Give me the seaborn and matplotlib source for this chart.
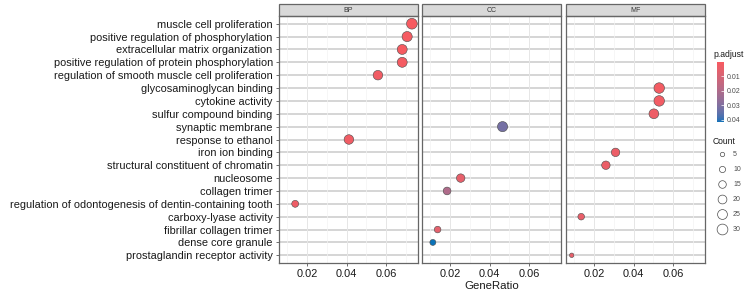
import numpy as np
import pandas as pd
import matplotlib
matplotlib.use("Agg")
import matplotlib.pyplot as plt
import seaborn as sns
from matplotlib.colors import ListedColormap, Normalize
from matplotlib.lines import Line2D
from matplotlib.patches import Rectangle

# ---- data ----
terms = [
    "muscle cell proliferation",
    "positive regulation of phosphorylation",
    "extracellular matrix organization",
    "positive regulation of protein phosphorylation",
    "regulation of smooth muscle cell proliferation",
    "glycosaminoglycan binding",
    "cytokine activity",
    "sulfur compound binding",
    "synaptic membrane",
    "response to ethanol",
    "iron ion binding",
    "structural constituent of chromatin",
    "nucleosome",
    "collagen trimer",
    "regulation of odontogenesis of dentin-containing tooth",
    "carboxy-lyase activity",
    "fibrillar collagen trimer",
    "dense core granule",
    "prostaglandin receptor activity",
]
ontology = ["BP", "BP", "BP", "BP", "BP", "MF", "MF", "MF", "CC", "BP",
            "MF", "MF", "CC", "CC", "BP", "MF", "CC", "CC", "MF"]
gene_ratio = [0.0731, 0.0707, 0.0682, 0.0682, 0.0559, 0.0530, 0.0530, 0.0503,
              0.0466, 0.0412, 0.0309, 0.0260, 0.0254, 0.0185, 0.0140, 0.0135,
              0.0137, 0.0113, 0.0087]
counts = [29, 26, 25, 25, 23, 28, 28, 24, 26, 23, 18, 18, 18, 15, 12, 11,
          11, 9, 5]
p_adjust = [0.0005, 0.0010, 0.0008, 0.0012, 0.0020, 0.0015, 0.0018, 0.0030,
            0.0320, 0.0025, 0.0035, 0.0040, 0.0050, 0.0200, 0.0030, 0.0045,
            0.0060, 0.0417, 0.0050]
panels = ["BP", "CC", "MF"]
x_ticks = [0.02, 0.04, 0.06]

df = pd.DataFrame({"Description": terms, "ONTOLOGY": ontology,
                   "GeneRatio": gene_ratio, "Count": counts,
                   "p.adjust": p_adjust})
df["ypos"] = df["Description"].map({t: i for i, t in enumerate(terms)})


# ggplot-style gradient (interpolated in Lab space)
def _to_lab(hexcol):
    rgb = np.array(matplotlib.colors.to_rgb(hexcol))
    lin = np.where(rgb <= 0.04045, rgb / 12.92, ((rgb + 0.055) / 1.055) ** 2.4)
    m = np.array([[0.4124, 0.3576, 0.1805],
                  [0.2126, 0.7152, 0.0722],
                  [0.0193, 0.1192, 0.9505]])
    xyz = m @ lin / np.array([0.95047, 1.0, 1.08883])
    f = np.where(xyz > 0.008856, np.cbrt(xyz), 7.787 * xyz + 16 / 116)
    return np.array([116 * f[1] - 16, 500 * (f[0] - f[1]), 200 * (f[1] - f[2])])


def _from_lab(lab):
    fy = (lab[0] + 16) / 116
    f = np.array([fy + lab[1] / 500, fy, fy - lab[2] / 200])
    xyz = np.where(f ** 3 > 0.008856, f ** 3, (f - 16 / 116) / 7.787)
    xyz = xyz * np.array([0.95047, 1.0, 1.08883])
    m = np.array([[3.2406, -1.5372, -0.4986],
                  [-0.9689, 1.8758, 0.0415],
                  [0.0557, -0.2040, 1.0570]])
    lin = m @ xyz
    rgb = np.where(lin <= 0.0031308, 12.92 * lin, 1.055 * np.clip(lin, 0, None) ** (1 / 2.4) - 0.055)
    return np.clip(rgb, 0, 1)


lo, hi = _to_lab("#F85A60"), _to_lab("#0A72B8")
cmap = ListedColormap([_from_lab(lo + (hi - lo) * t) for t in np.linspace(0, 1, 256)])
p_norm = Normalize(0.0, 0.0417)

plt.rcParams["font.family"] = ["Liberation Sans", "DejaVu Sans"]
fs = 7.9

fig = plt.figure(figsize=(7.48, 2.95), dpi=100)
lefts = [279 / 748, 422 / 748, 566 / 748]
width = 139 / 748
bottom, top = 1 - 263 / 295, 1 - 16 / 295
axes = []
for i, (lft, ont) in enumerate(zip(lefts, panels)):
    ax = fig.add_axes([lft, bottom, width, top - bottom],
                      sharey=axes[0] if axes else None)
    axes.append(ax)
    sub = df[df["ONTOLOGY"] == ont]
    for y in range(len(terms)):
        ax.axhline(y, color="#CACACA", lw=1.1, zorder=0)
    for xv in [0.01, 0.03, 0.05, 0.07]:
        ax.axvline(xv, color="#F3F3F3", lw=0.5, zorder=0)
    for xv in x_ticks:
        ax.axvline(xv, color="#E6E6E6", lw=0.7, zorder=0)
    sns.scatterplot(data=sub, x="GeneRatio", y="ypos", hue="p.adjust",
                    size="Count", palette=cmap, hue_norm=p_norm,
                    sizes=(0, 72), size_norm=(0, 35), edgecolor="#4a4a4a",
                    linewidth=0.4, legend=False, ax=ax, zorder=3)
    ax.set_xlim(0.0058, 0.0762)
    ax.set_ylim(len(terms) - 0.4, -0.6)
    ax.set_xticks(x_ticks)
    ax.set_xticklabels([f"{v:.2f}" for v in x_ticks], fontsize=fs, color="#1a1a1a")
    ax.set_xlabel("")
    ax.set_ylabel("")
    ax.tick_params(axis="both", length=2.5, width=0.6, color="#555555", pad=2)
    for sp in ax.spines.values():
        sp.set_color("#666666")
        sp.set_linewidth(0.9)
    ax.add_patch(Rectangle((0, 1), 1, 12 / 247, transform=ax.transAxes,
                           facecolor="#D9D9D9", edgecolor="#666666", lw=0.9,
                           clip_on=False))
    ax.text(0.5, 1 + 6 / 247, ont, transform=ax.transAxes, ha="center",
            va="center", fontsize=5, color="#333333")
    if i == 0:
        ax.set_yticks(range(len(terms)))
        ax.set_yticklabels(terms, fontsize=fs, color="#1a1a1a")
    else:
        ax.tick_params(axis="y", left=False, labelleft=False)

fig.text(492 / 748, 1 - 286 / 295, "GeneRatio", ha="center", va="center",
         fontsize=fs + 0.3, color="#1a1a1a")

# colour bar legend
cax = fig.add_axes([717 / 748, 1 - 122 / 295, 7 / 748, 60 / 295])
cb = fig.colorbar(matplotlib.cm.ScalarMappable(norm=p_norm, cmap=cmap), cax=cax)
cb.outline.set_visible(False)
cax.invert_yaxis()
cb.set_ticks([0.01, 0.02, 0.03, 0.04])
cb.set_ticklabels(["0.01", "0.02", "0.03", "0.04"])
cax.tick_params(length=2, width=0.5, color="white", labelsize=5,
                labelcolor="#4d4d4d", pad=2, direction="in")
fig.text(713 / 748, 1 - 55 / 295, "p.adjust", fontsize=6.2, color="#1a1a1a",
         va="center")

# size legend
legend_counts = [5, 10, 15, 20, 25, 30]
handles = [Line2D([], [], marker="o", ls="", markersize=np.sqrt(2.0 * c),
                  markerfacecolor="none", markeredgecolor="#4d4d4d",
                  markeredgewidth=0.5, label=str(c)) for c in legend_counts]
fig.text(713 / 748, 1 - 142 / 295, "Count", fontsize=6.2, color="#1a1a1a",
         va="center")
leg = fig.legend(handles=handles, loc="upper left",
                 bbox_to_anchor=(717 / 748, 1 - 151 / 295), frameon=False,
                 fontsize=5, labelspacing=1.15, handlelength=1.3,
                 handletextpad=1.0, borderaxespad=0, borderpad=0)
for t in leg.get_texts():
    t.set_color("#4d4d4d")

fig.savefig("out.png", dpi=100)
